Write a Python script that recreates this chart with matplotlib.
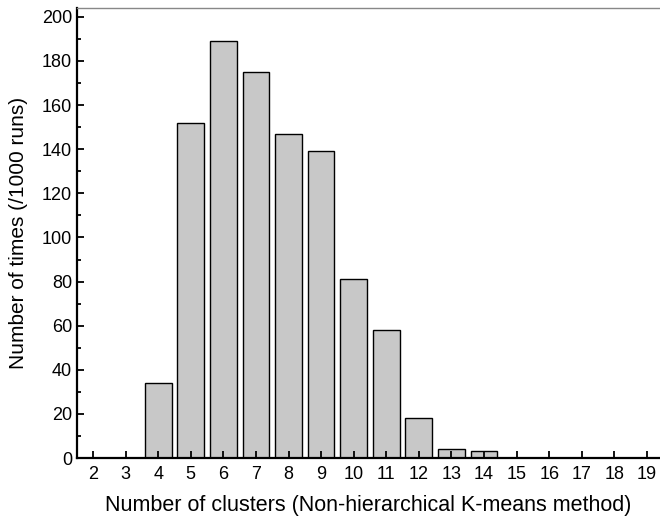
import matplotlib
matplotlib.use("Agg")
import matplotlib.pyplot as plt
from matplotlib.ticker import MultipleLocator

plt.rcParams['font.family'] = ['Liberation Sans', 'DejaVu Sans']

clusters = list(range(2, 20))
counts = [0, 0, 34, 152, 189, 175, 147, 139, 81, 58, 18, 4, 3, 0, 0, 0, 0, 0]

fig = plt.figure(figsize=(6.6, 5.17), dpi=100)
ax = fig.add_axes([0.1167, 0.114, 0.8833, 0.8705])

# bars (skip zero heights so no flat lines are drawn)
xs = [c for c, v in zip(clusters, counts) if v > 0]
vs = [v for v in counts if v > 0]
ax.bar(xs, vs, width=0.82, color="#c8c8c8", edgecolor="black", linewidth=1.0, zorder=1)
ax.set_axisbelow(False)

ax.set_xlim(1.51, 19.4)
ax.set_ylim(0, 204)
ax.set_xticks(clusters)
ax.yaxis.set_major_locator(MultipleLocator(20))
ax.yaxis.set_minor_locator(MultipleLocator(10))

ax.spines['right'].set_visible(False)
ax.spines['top'].set_color("#888888")
ax.spines['top'].set_linewidth(1.0)
ax.spines['left'].set_linewidth(1.6)
ax.spines['bottom'].set_linewidth(1.6)

ax.tick_params(axis="both", which="major", direction="in", length=5, width=1.3, labelsize=13)
ax.tick_params(axis="y", which="minor", direction="in", length=3, width=1.3)
ax.tick_params(axis="x", pad=6)

ax.set_xlabel("Number of clusters (Non-hierarchical K-means method)", fontsize=15.5, labelpad=8)
ax.set_ylabel("Number of times (/1000 runs)", fontsize=15, labelpad=10)

fig.savefig("out.png", dpi=100)
